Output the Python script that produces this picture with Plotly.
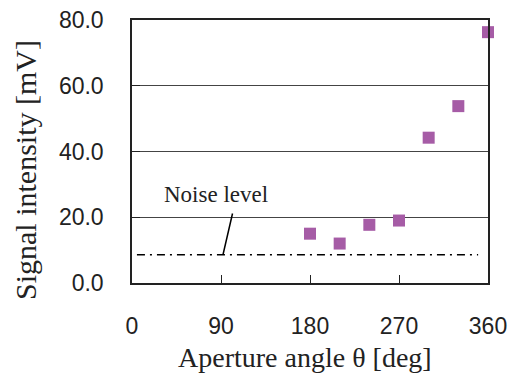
import plotly.graph_objects as go

angles = [180, 210, 240, 270, 300, 330, 360]
signal = [15.0, 12.0, 17.7, 19.0, 44.2, 53.8, 76.3]
noise_x = [5, 350]
noise_y = [8.6, 8.6]
x_ticks = [0, 90, 180, 270, 360]
y_ticks = [0, 20, 40, 60, 80]
y_tick_labels = ["0.0", "20.0", "40.0", "60.0", "80.0"]

fig = go.Figure()
fig.add_trace(go.Scatter(x=noise_x, y=noise_y, mode="lines",
                         line=dict(color="black", width=1.5, dash="8px,5px,2px,5px"),
                         showlegend=False, hoverinfo="skip"))
fig.add_trace(go.Scatter(x=angles, y=signal, mode="markers",
                         marker=dict(symbol="square", size=12, color="#A65CA6"),
                         showlegend=False, cliponaxis=False))

serif = "Liberation Serif, Times New Roman, serif"
sans = "Liberation Sans, Arial, sans-serif"
H = 263.0
W = 356.0

fig.update_layout(
    width=510, height=373,
    margin=dict(l=132, r=22, t=20, b=90),
    paper_bgcolor="white", plot_bgcolor="white",
    xaxis=dict(range=[0, 360], tickvals=x_ticks, ticks="inside", ticklen=8,
               tickcolor="#222", showgrid=False, showline=True, linecolor="#222",
               linewidth=1.5, mirror=True, zeroline=False, automargin=False,
               tickfont=dict(family=sans, size=23, color="#222"),
               ticklabelstandoff=22, ticklabeloverflow="allow"),
    yaxis=dict(range=[0, 80], tickvals=y_ticks, ticktext=y_tick_labels, ticks="inside",
               ticklen=8, tickcolor="#222", showgrid=True, gridcolor="#444", gridwidth=1,
               showline=True, linecolor="#222", linewidth=1.5, mirror=True, zeroline=False,
               automargin=False,
               tickfont=dict(family=sans, size=23, color="#222"),
               ticklabelstandoff=22, ticklabeloverflow="allow"),
    annotations=[
        dict(x=92, y=8.6, ax=102, ay=21.6, xref="x", yref="y", axref="x", ayref="y",
             text="", showarrow=True, arrowhead=0, arrowwidth=1.5, arrowcolor="black"),
        dict(x=85, y=27.0, xref="x", yref="y", text="Noise level", showarrow=False,
             font=dict(family=serif, size=23, color="#222"), yanchor="middle"),
        dict(x=(305 - 132) / W, y=-(357 - 283) / H, xref="paper", yref="paper",
             text="Aperture angle θ [deg]", showarrow=False,
             font=dict(family=serif, size=28, color="#222"), yanchor="middle"),
        dict(x=-(132 - 25) / W, y=(283 - 170) / H, xref="paper", yref="paper",
             text="Signal intensity [mV]", showarrow=False, textangle=-90,
             font=dict(family=serif, size=30, color="#222"), xanchor="center", yanchor="middle"),
    ],
)

fig.write_html(
    "out.html",
    config={"displayModeBar": False},
    post_script=("document.body.style.margin='0';"
                 "document.body.style.overflow='hidden';"
                 "document.documentElement.style.overflow='hidden';"),
)
